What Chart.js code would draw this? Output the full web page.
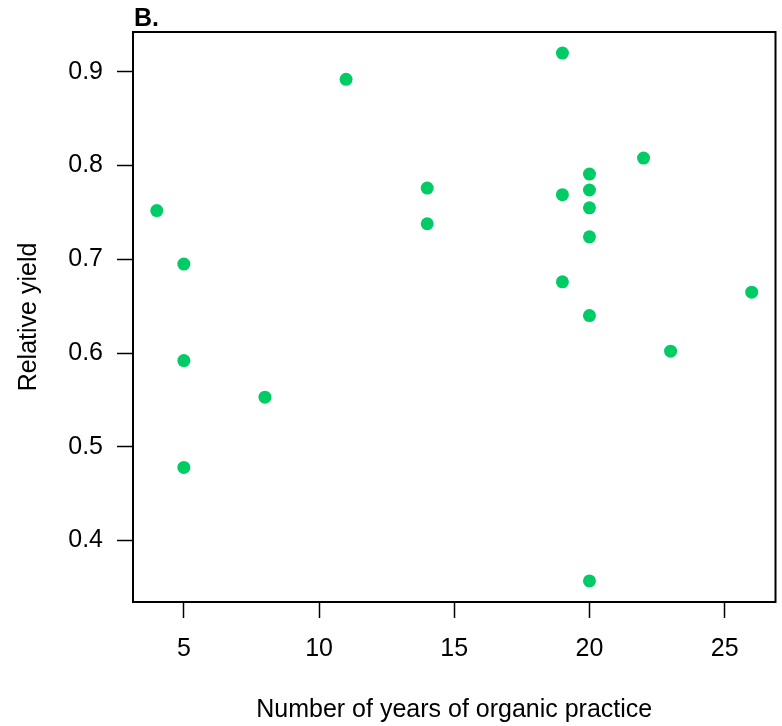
<!DOCTYPE html>
<html>
<head>
<meta charset="utf-8">
<script src="https://cdn.jsdelivr.net/npm/chart.js@4/dist/chart.umd.min.js"></script>
<style>
html,body{margin:0;padding:0;background:#fff;}
#wrap{width:782px;height:726px;position:relative;}
</style>
</head>
<body>
<div id="wrap"><canvas id="c" width="782" height="726"></canvas></div>
<script>
const panelLabel = "B.";
const xTitle = "Number of years of organic practice";
const yTitle = "Relative yield";
const years = [4, 5, 5, 5, 8, 11, 14, 14, 19, 19, 19, 20, 20, 20, 20, 20, 20, 22, 23, 26];
const relYield = [0.752, 0.695, 0.592, 0.478, 0.553, 0.892, 0.776, 0.738, 0.920, 0.769, 0.676, 0.791, 0.774, 0.755, 0.724, 0.640, 0.357, 0.808, 0.602, 0.665];
const xTicks = [5, 10, 15, 20, 25];
const yTicks = [0.4, 0.5, 0.6, 0.7, 0.8, 0.9];

const points = years.map((x, i) => ({x: x, y: relYield[i]}));

// R-style 4% range extension
const xr = [Math.min(...years), Math.max(...years)];
const yr = [Math.min(...relYield), Math.max(...relYield)];
const xpad = (xr[1] - xr[0]) * 0.04, ypad = (yr[1] - yr[0]) * 0.04;

const FONT = "'Liberation Sans', Arial, sans-serif";

const boxPlugin = {
  id: 'boxAndLabel',
  afterDraw(chart) {
    const {ctx, chartArea: a} = chart;
    ctx.save();
    ctx.strokeStyle = '#000';
    ctx.lineWidth = 2;
    ctx.strokeRect(a.left, a.top, a.right - a.left, a.bottom - a.top);
    ctx.fillStyle = '#000';
    ctx.font = "bold 25px " + FONT;
    ctx.textBaseline = 'alphabetic';
    ctx.textAlign = 'left';
    ctx.fillText(panelLabel, a.left + 1, a.top - 6);
    ctx.restore();
  }
};

new Chart(document.getElementById('c'), {
  type: 'scatter',
  data: {
    datasets: [{
      data: points,
      backgroundColor: '#00cc66',
      borderColor: '#00cc66',
      borderWidth: 0,
      pointRadius: 6.5,
      pointHoverRadius: 6.5
    }]
  },
  options: {
    responsive: false,
    animation: false,
    events: [],
    layout: {padding: {top: 32, right: 3, left: 0, bottom: 0}},
    plugins: {legend: {display: false}, tooltip: {enabled: false}, title: {display: false}},
    scales: {
      x: {
        type: 'linear',
        min: xr[0] - xpad,
        max: xr[1] + xpad,
        afterBuildTicks: s => { s.ticks = xTicks.map(v => ({value: v})); },
        afterFit: s => { s.height = 124; s.paddingLeft = 0; s.paddingRight = 0; },
        grid: {display: true, drawOnChartArea: false, drawTicks: true, tickLength: 16, tickColor: '#000', tickWidth: 1.5},
        border: {display: false},
        ticks: {font: {family: FONT, size: 25}, color: '#000', padding: 16, maxRotation: 0, autoSkip: false},
        title: {display: true, text: xTitle, font: {family: FONT, size: 25}, color: '#000', padding: {top: 0, bottom: 1}}
      },
      y: {
        type: 'linear',
        min: yr[0] - ypad,
        max: yr[1] + ypad,
        afterBuildTicks: s => { s.ticks = yTicks.map(v => ({value: v})); },
        afterFit: s => { s.width = 133; s.paddingTop = 0; s.paddingBottom = 0; },
        grid: {display: true, drawOnChartArea: false, drawTicks: true, tickLength: 16, tickColor: '#000', tickWidth: 1.5},
        border: {display: false},
        ticks: {font: {family: FONT, size: 25}, color: '#000', padding: 14, autoSkip: false,
                callback: v => v.toFixed(1)},
        title: {display: true, text: yTitle, font: {family: FONT, size: 25}, color: '#000', padding: {top: 14, bottom: 0}}
      }
    }
  },
  plugins: [boxPlugin]
});
</script>
</body>
</html>
